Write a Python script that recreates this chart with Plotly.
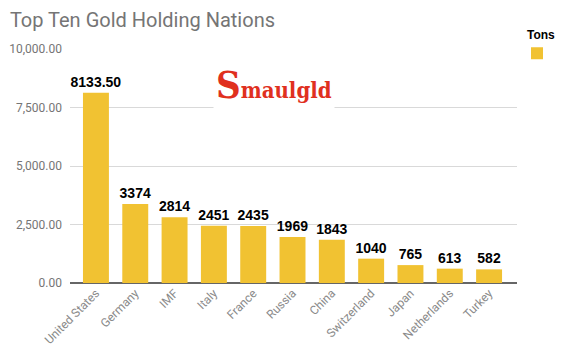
import plotly.graph_objects as go

countries = ["United States", "Germany", "IMF", "Italy", "France", "Russia",
             "China", "Switzerland", "Japan", "Netherlands", "Turkey"]
tons = [8133.50, 3374, 2814, 2451, 2435, 1969, 1843, 1040, 765, 613, 582]
labels = ["8133.50", "3374", "2814", "2451", "2435", "1969", "1843", "1040", "765", "613", "582"]
y_ticks = [0, 2500, 5000, 7500, 10000]

fig = go.Figure()
fig.add_trace(go.Bar(
    x=countries, y=tons, name="Tons",
    marker=dict(color="#f1c232", line=dict(width=0)),
    text=labels, textposition="outside", cliponaxis=False,
    textangle=0, constraintext="none",
    textfont=dict(family="Liberation Sans, Arial", size=14, color="#000000"),
    texttemplate="<b>%{text}</b>",
))

fig.update_layout(
    width=581, height=361,
    margin=dict(l=70, r=64, t=49, b=78, autoexpand=False),
    paper_bgcolor="white", plot_bgcolor="white",
    bargap=0.34,
    title=dict(text="Top Ten Gold Holding Nations", x=0.017, xanchor="left",
               y=0.945, yanchor="middle",
               font=dict(family="Roboto, Arial", size=20, color="#757575")),
    showlegend=True,
    legend=dict(x=1.0, y=1.11, xanchor="left", yanchor="top",
                title=dict(text="<b>Tons</b>", side="top center",
                           font=dict(family="Liberation Sans, Arial", size=12, color="#000")),
                font=dict(size=1, color="white"), itemwidth=30),
    xaxis=dict(range=[-0.66, 10.71], tickangle=-45,
               tickfont=dict(family="Roboto, Arial", size=12, color="#8a8a8a"),
               showgrid=False, showline=False, ticks="", automargin=False),
    yaxis=dict(range=[0, 10000], tickvals=y_ticks, tickformat=",.2f",
               tickfont=dict(family="Roboto, Arial", size=12, color="#757575"),
               gridcolor="#d9d9d9", zeroline=True, zerolinecolor="#666666",
               zerolinewidth=1.5, showline=False, ticks="", ticklabelstandoff=7,
               automargin=False),
)

fig.add_annotation(
    xref="paper", yref="paper", x=0.456, y=0.85, xanchor="center", yanchor="middle",
    text="<span style='font-size:38px'>S</span>maulgld", showarrow=False,
    font=dict(family="DejaVu Serif Condensed, DejaVu Serif", size=22, color="#e0301e", weight="bold"),
    bgcolor="white", borderpad=2,
)

fig.write_html("out.html", config={"displayModeBar": False},
               post_script="document.body.style.margin='0';document.body.style.padding='0';")
